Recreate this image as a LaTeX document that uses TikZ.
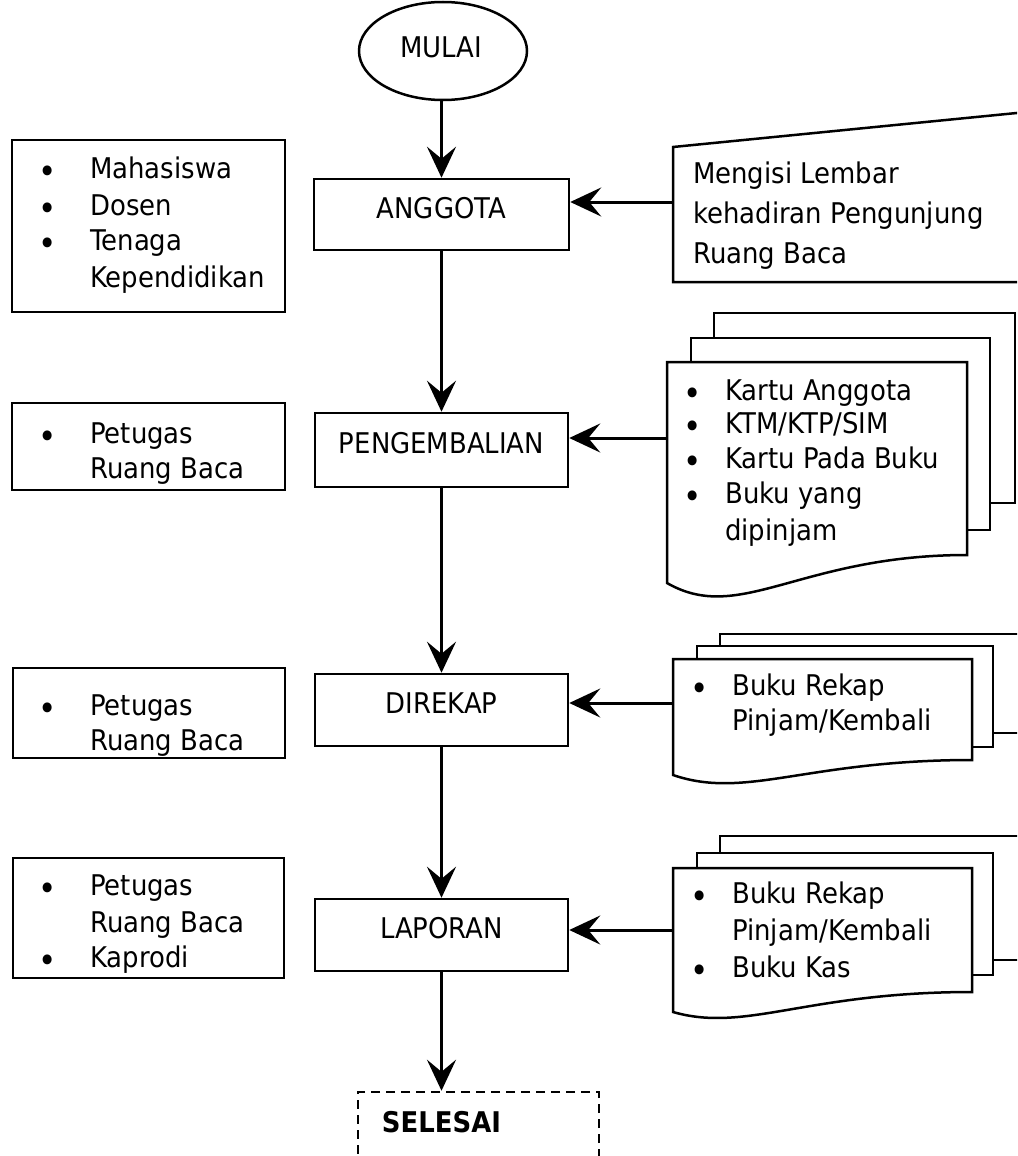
\documentclass[tikz,border=0pt]{standalone}
\usepackage{fontspec}
\setmainfont{DejaVu Sans}[FakeStretch=0.91]
\usetikzlibrary{arrows.meta,shapes.geometric}
\begin{document}
\begin{tikzpicture}[x=1pt,y=-1pt,
  box/.style={draw, line width=2.5pt, fill=white, inner sep=0pt},
  txt/.style={inner sep=0pt, font=\fontsize{28.5}{36}\selectfont},
  bul/.style={txt, anchor=base},
  dot/.style={inner sep=0pt, anchor=base, font=\fontsize{34}{36}\selectfont, yshift=-5.5pt},
  tl/.style={txt, anchor=base west},
  arr/.style={line width=3pt, -{Stealth[length=31pt,width=29pt,inset=12pt]}},
  page/.style={draw, line width=2.5pt, fill=white, line join=miter}]
\useasboundingbox (0,0) rectangle (1017,1156);
\clip (0,0) rectangle (1017,1156);
\fill[white] (0,0) rectangle (1017,1156);

% ---------- centre column ----------
\node[draw, ellipse, line width=2.5pt, minimum width=168pt, minimum height=98pt, inner sep=0pt] (mulai) at (443,51) {};
\node[bul] (mulaiT) at (441.5,57) {MULAI};

\node[box, minimum width=255pt, minimum height=71pt] (anggota) at (441.5,214.5) {};
\node[bul] (anggotaT) at (441.5,218) {ANGGOTA};

\node[box, minimum width=253pt, minimum height=74pt] (kembali) at (441.5,450) {};
\node[bul] (kembaliT) at (441.5,453) {PENGEMBALIAN};

\node[box, minimum width=253pt, minimum height=72pt] (rekap) at (441.5,710) {};
\node[bul] (rekapT) at (441.5,713) {DIREKAP};

\node[box, minimum width=253pt, minimum height=72pt] (lapor) at (441.5,935) {};
\node[bul] (laporT) at (441.5,938) {LAPORAN};

\node[draw, line width=2.5pt, dash pattern=on 9pt off 6pt, inner sep=0pt,
      minimum width=241pt, minimum height=140pt] (selesai) at (478.5,1162) {};
\node[bul, font=\fontsize{28.5}{36}\selectfont\bfseries] (selesaiT) at (441.5,1132) {SELESAI};

\draw[arr] (441.5,100) -- (anggota);
\draw[arr] (anggota) -- (kembali);
\draw[arr] (kembali) -- (rekap);
\draw[arr] (rekap) -- (lapor);
\draw[arr] (lapor) -- (lapor |- selesai.north);

% ---------- left boxes ----------
\node[box, minimum width=273pt, minimum height=172pt] (who1) at (148.5,226) {};
\node[dot] (b11) at (48,178) {•};
\node[tl] (t11) at (90,178) {Mahasiswa};
\node[dot] (b12) at (48,215) {•};
\node[tl] (t12) at (90,215) {Dosen};
\node[dot] (b13) at (48,250) {•};
\node[tl] (t13) at (90,250) {Tenaga};
\node[tl] (t14) at (90,287) {Kependidikan};

\node[box, minimum width=273pt, minimum height=87pt] (who2) at (148.5,446.5) {};
\node[dot] (b21) at (48,443) {•};
\node[tl] (t21) at (90,443) {Petugas};
\node[tl] (t22) at (90,478) {Ruang Baca};

\node[box, minimum width=272pt, minimum height=90pt] (who3) at (149,713) {};
\node[dot] (b31) at (48,715) {•};
\node[tl] (t31) at (90,715) {Petugas};
\node[tl] (t32) at (90,750) {Ruang Baca};

\node[box, minimum width=271pt, minimum height=120pt] (who4) at (148.5,918) {};
\node[dot] (b41) at (48,895) {•};
\node[tl] (t41) at (90,895) {Petugas};
\node[tl] (t42) at (90,932) {Ruang Baca};
\node[dot] (b43) at (48,967) {•};
\node[tl] (t43) at (90,967) {Kaprodi};

% ---------- document 1 (manual input) ----------
\draw[page] (1045,282) -- (673,282) -- (673,147) -- (1045,110.2);
\node[tl] (d1a) at (693,183) {Mengisi Lembar};
\node[tl] (d1b) at (693,223) {kehadiran Pengunjung};
\node[tl] (d1c) at (693,263) {Ruang Baca};
\coordinate (d1in) at (673,202);
\draw[arr] (d1in) -- (d1in -| anggota.east);

% ---------- document 2 ----------
\draw[page] (714,313) rectangle (1015,503);
\draw[page] (691,338) rectangle (990,530);
\draw[page] (667,583) -- (667,362) -- (967,362) -- (967,555)
  .. controls (800,555) and (740,625) .. (667,583) -- cycle;
\node[dot] (b2a) at (693,400) {•};
\node[tl] (d2a) at (725,400) {Kartu Anggota};
\node[dot] (b2b) at (693,433) {•};
\node[tl] (d2b) at (725,433) {KTM/KTP/SIM};
\node[dot] (b2c) at (693,468) {•};
\node[tl] (d2c) at (725,468) {Kartu Pada Buku};
\node[dot] (b2d) at (693,503) {•};
\node[tl] (d2d) at (725,503) {Buku yang};
\node[tl] (d2e) at (725,540) {dipinjam};
\coordinate (d2in) at (667,438);
\draw[arr] (d2in) -- (d2in -| kembali.east);

% ---------- document 3 ----------
\draw[page] (720,634) rectangle (1045,733);
\draw[page] (697,646) rectangle (993,747);
\draw[page] (673,775) -- (673,659) -- (972,659) -- (972,760)
  .. controls (806,760) and (746,800) .. (673,775) -- cycle;
\node[dot] (b3a) at (700,695) {•};
\node[tl] (d3a) at (732,695) {Buku Rekap};
\node[tl] (d3b) at (732,730) {Pinjam/Kembali};
\coordinate (d3in) at (673,703);
\draw[arr] (d3in) -- (d3in -| rekap.east);

% ---------- document 4 ----------
\draw[page] (720,836) rectangle (1045,960);
\draw[page] (697,853) rectangle (993,975);
\draw[page] (673,1012) -- (673,868) -- (972,868) -- (972,992)
  .. controls (806,992) and (746,1033) .. (673,1012) -- cycle;
\node[dot] (b4a) at (700,903) {•};
\node[tl] (d4a) at (732,903) {Buku Rekap};
\node[tl] (d4b) at (732,940) {Pinjam/Kembali};
\node[dot] (b4c) at (700,977) {•};
\node[tl] (d4c) at (732,977) {Buku Kas};
\coordinate (d4in) at (673,930);
\draw[arr] (d4in) -- (d4in -| lapor.east);
\end{tikzpicture}
\end{document}
